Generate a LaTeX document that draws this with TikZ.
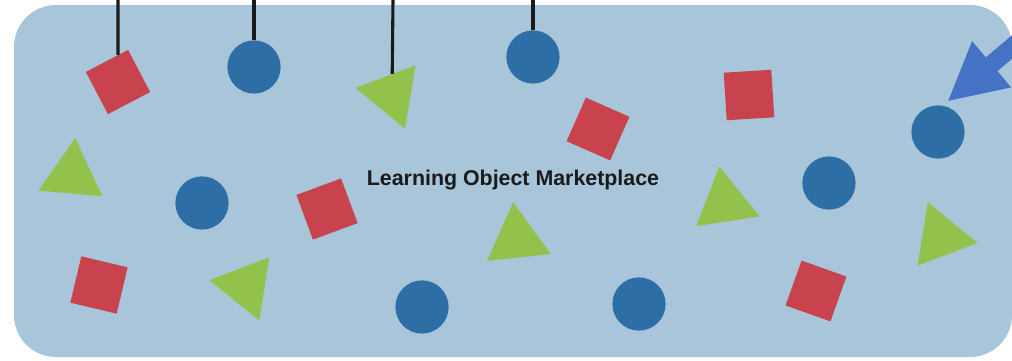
\documentclass[tikz,border=0pt]{standalone}
\usepackage{fontspec}
\newfontfamily\labelfont{Liberation Sans}
\usetikzlibrary{shapes.geometric,arrows.meta}
\definecolor{pool}{HTML}{A8C5DA}
\definecolor{objred}{HTML}{C8434E}
\definecolor{objblue}{HTML}{2D6EA6}
\definecolor{objgreen}{HTML}{93C24C}
\definecolor{pointer}{HTML}{4472C4}
\definecolor{ink}{HTML}{1A1A1A}

\begin{document}
\begin{tikzpicture}[x=0.025cm,y=-0.025cm,
    box/.style={rectangle,fill=objred,minimum size=1.19cm,inner sep=0pt},
    dot/.style={circle,fill=objblue,minimum size=1.33cm,inner sep=0pt},
    tri/.style={regular polygon,regular polygon sides=3,fill=objgreen,minimum size=1.85cm,inner sep=0pt},
    pin/.style={draw=ink,line width=2.2pt}]
        \useasboundingbox (0,0) rectangle (1012,361);
        \clip (0,0) rectangle (1012,361);
        \fill[pool,rounded corners=1.05cm] (14,5) rectangle (1012,357);

        \node[box,rotate=27.6] (sq1) at (118,82) {};
        \node[box,rotate=20.3] (sq2) at (327,209) {};
        \node[box,rotate=-13.4] (sq3) at (99,285) {};
        \node[box,rotate=-23.8] (sq4) at (598,129) {};
        \node[box,rotate=3.6] (sq5) at (749,95) {};
        \node[box,rotate=-19.6] (sq6) at (816,291) {};

        \node[dot] (dot1) at (254,67) {};
        \node[dot] (dot2) at (202,203) {};
        \node[dot] (dot3) at (422,307) {};
        \node[dot] (dot4) at (533,57) {};
        \node[dot] (dot5) at (938,132) {};
        \node[dot] (dot6) at (829,183) {};
        \node[dot] (dot7) at (639,304) {};

        \node[tri,rotate=-39.5] (tri1) at (392,94) {};
        \node[tri,rotate=-5] (tri2) at (72,175) {};
        \node[tri,rotate=-39] (tri3) at (246,286) {};
        \node[tri,rotate=6] (tri4) at (517,239) {};
        \node[tri,rotate=8.8] (tri5) at (725,203) {};
        \node[tri,rotate=20.8] (tri6) at (941,237) {};

        \coordinate (top1) at (118,0);
        \coordinate (top2) at (254,0);
        \coordinate (top3) at (393,0);
        \coordinate (top4) at (533,0);
        \draw[pin] (top1) -- (sq1);
        \draw[pin] (top2) -- (dot1);
        \draw[pin] (top3) -- (tri1);
        \draw[pin] (top4) -- (dot4);

        \node[anchor=base,text=ink] (title) at (513,185)
            {\labelfont\bfseries\fontsize{15.2}{18}\selectfont Learning Object Marketplace};

        \coordinate (feed) at (1050,15);
        \draw[pointer,line width=0.45cm,-{Triangle[length=1.45cm,width=1.4cm]},shorten >=0.15cm] (feed) -- (dot5.80);
      \end{tikzpicture}
\end{document}
